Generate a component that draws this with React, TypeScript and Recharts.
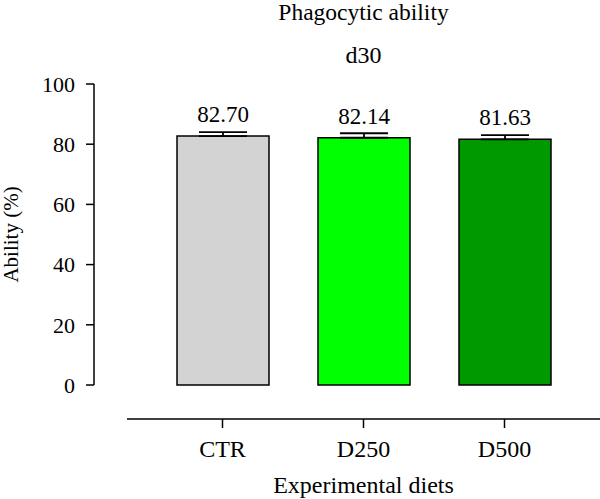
import { BarChart, Bar, XAxis, YAxis, Cell, ErrorBar, LabelList } from "recharts";

const diets = ["CTR", "D250", "D500"];
const ability = [82.7, 82.14, 81.63];
const sem = [1.3, 1.5, 1.4];
const barColors = ["#d3d3d3", "#00ff00", "#009a00"];
const yTicks = [0, 20, 40, 60, 80, 100];

const FONT = "'Liberation Serif', 'Times New Roman', serif";

// only the upper whisker is shown, so the low side of the error is zero
const data = diets.map((name, i) => ({
  name,
  value: ability[i],
  err: [0, sem[i]],
}));

export default function App() {
  return (
    <div
      style={{
        position: "absolute",
        left: 0,
        top: 0,
        width: 600,
        height: 499,
        background: "#fff",
        fontFamily: FONT,
      }}
    >
      <svg
        width={600}
        height={80}
        style={{ position: "absolute", left: 0, top: 0, pointerEvents: "none", fontFamily: FONT }}
      >
        <text x={363.5} y={20} textAnchor="middle" fontSize={23.5} fill="#000">
          Phagocytic ability
        </text>
        <text x={363.5} y={63} textAnchor="middle" fontSize={24} fill="#000">
          d30
        </text>
      </svg>
      <BarChart
        width={600}
        height={499}
        data={data}
        margin={{ top: 84, right: 0, bottom: 0, left: 0 }}
        barSize={92}
        style={{ fontFamily: FONT }}
      >
        {/* spacer axes push the drawn axes away from the plot area */}
        <XAxis
          xAxisId="gap"
          dataKey="name"
          height={34}
          axisLine={false}
          tickLine={false}
          tick={false}
        />
        <XAxis
          xAxisId="main"
          dataKey="name"
          height={80}
          padding={{ left: 25, right: 25 }}
          axisLine={{ stroke: "#000", strokeWidth: 1.5 }}
          tickLine={{ stroke: "#000", strokeWidth: 1.5 }}
          tickSize={9}
          tickMargin={12}
          tick={{ fill: "#000", fontSize: 24, fontFamily: FONT }}
          label={{
            value: "Experimental diets",
            position: "insideBottom",
            offset: 6,
            fill: "#000",
            fontSize: 24,
            fontFamily: FONT,
          }}
        />
        <YAxis
          yAxisId="gap"
          width={33}
          domain={[0, 100]}
          axisLine={false}
          tickLine={false}
          tick={false}
        />
        <YAxis
          yAxisId="main"
          width={94}
          domain={[0, 100]}
          ticks={yTicks}
          interval={0}
          axisLine={{ stroke: "#000", strokeWidth: 1.5 }}
          tickLine={{ stroke: "#000", strokeWidth: 1.5 }}
          tickSize={8}
          tickMargin={11}
          tick={{ fill: "#000", fontSize: 22, fontFamily: FONT }}
          label={{
            value: "Ability (%)",
            angle: -90,
            position: "insideLeft",
            offset: 11,
            fill: "#000",
            fontSize: 21,
            fontFamily: FONT,
            style: { textAnchor: "middle" },
          }}
        />
        <Bar
          dataKey="value"
          xAxisId="main"
          yAxisId="main"
          stroke="#000"
          strokeWidth={1.5}
          isAnimationActive={false}
        >
          {data.map((d, i) => (
            <Cell key={d.name} fill={barColors[i]} />
          ))}
          {/* ErrorBar width is the half-length of the cap */}
          <ErrorBar
            dataKey="err"
            direction="y"
            width={24}
            stroke="#000"
            strokeWidth={1.8}
            isAnimationActive={false}
          />
          <LabelList
            dataKey="value"
            position="top"
            offset={14}
            formatter={(v: number) => v.toFixed(2)}
            fill="#000"
            fontSize={23}
            fontFamily={FONT}
            style={{ fontFamily: FONT }}
          />
        </Bar>
      </BarChart>
    </div>
  );
}
